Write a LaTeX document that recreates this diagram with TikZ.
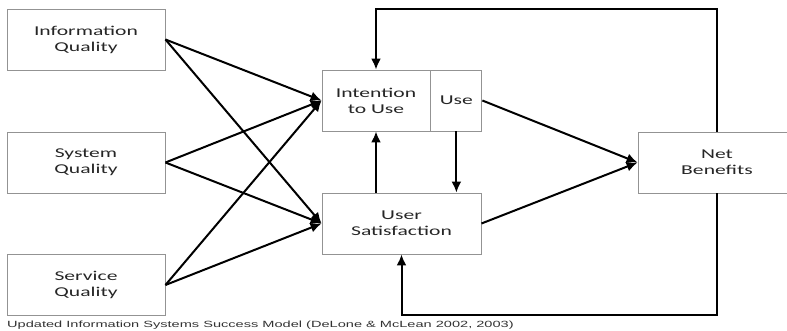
\documentclass[tikz,border=0pt]{standalone}
\usepackage{fontspec}
\usepackage{tikz}
\usetikzlibrary{positioning, arrows.meta}
\newfontfamily\boxfont[FakeStretch=1.6]{Carlito}
\newfontfamily\capfont[FakeStretch=1.62]{Liberation Sans}
\tikzset{
factor/.style={draw=gray!85, line width=0.9pt, minimum width=158pt, minimum height=61pt, inner sep=0pt, align=center, text=black!85, font={\boxfont\fontsize{13.5}{16}\selectfont}}, % the boxes
link/.style={-{Latex[length=11pt,width=10pt]}, line width=2pt}, % the arrows
}

\begin{document}
\begin{tikzpicture}[x=1pt, y=1pt]
    \useasboundingbox (0,0) rectangle (787,330);
    \clip (0,0) rectangle (787,330);

    %quality factors on the left
    \node[factor] (iq) at (86,290.5) {Information\\Quality};
    \node[factor] (sq) at (86,167.5) {System\\Quality};
    \node[factor] (svq) at (86,45) {Service\\Quality};

    %middle column
    \node[factor, minimum width=108pt] (itu) at (376,229.5) {Intention\\to Use};
    \node[factor, minimum width=51pt, right=0pt of itu] (use) {Use};
    \node[factor, minimum width=159pt] (us) at (401.5,106.5) {User\\Satisfaction};

    %outcome
    \node[factor] (nb) at (717,167.5) {Net\\Benefits};

    \coordinate (top) at (717,321);
    \coordinate (bottom) at (717,15);

    \foreach \src in {iq, sq, svq} {
        \draw[link] (\src.east) -- (itu.west);
        \draw[link] (\src.east) -- (us.west);
    }

    \draw[link] (us.north -| itu.south) -- (itu.south);
    \draw[link] (use.south) -- (use.south |- us.north);
    \draw[link] (use.east) -- (nb.west);
    \draw[link] (us.east) -- (nb.west);

    %feedback loops
    \draw[link] (nb.north) -- (top) -| (itu.north);
    \draw[link] (nb.south) -- (bottom) -| (us.south);

    \node[anchor=base west, inner sep=0pt, text=black!80, font={\capfont\fontsize{9}{11}\selectfont}] (caption) at (7,3)
        {Updated Information Systems Success Model (DeLone \& McLean 2002, 2003)};
\end{tikzpicture}
\end{document}
